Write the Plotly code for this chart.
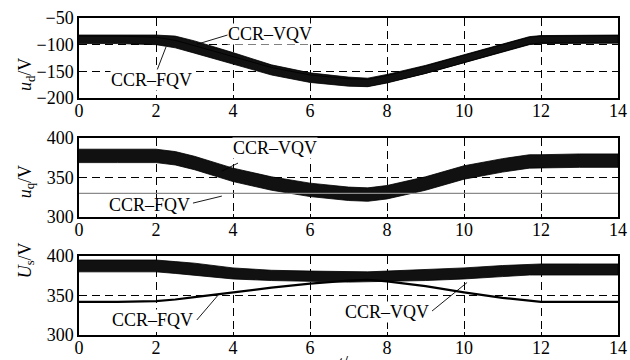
import plotly.graph_objects as go

# ---- data ----
t = [0, 1, 2, 2.5, 3, 4, 5, 6, 7, 7.5, 8, 9, 10, 11, 11.7, 12, 13, 14]

# u_d (V) bands: upper / lower envelopes
ud_vqv_up = [-82, -82, -82, -84, -93, -115, -138, -153, -161, -163, -156, -139, -119, -99, -85, -83, -82, -82]
ud_vqv_lo = [-96, -96, -96, -98, -108, -130, -153, -168, -176, -178, -171, -154, -134, -114, -100, -98, -97, -97]
ud_fqv_up = [-84, -84, -86, -92, -102, -122, -143, -157, -164, -165, -158, -140, -120, -100, -86, -84, -83, -83]
ud_fqv_lo = [-98, -98, -100, -106, -116, -136, -157, -171, -178, -179, -172, -154, -134, -113, -99, -97, -97, -97]

# u_q (V)
uq_vqv_up = [386, 386, 386, 383, 377, 362, 351, 343, 338, 337, 340, 351, 365, 374, 379, 379, 380, 380]
uq_vqv_lo = [369, 369, 369, 366, 360, 345, 334, 326, 321, 320, 323, 334, 348, 357, 362, 362, 363, 363]
uq_fqv = [330, 330, 330, 330, 330, 330, 330, 330, 330, 330, 330, 330, 330, 330, 330, 330, 330, 330]

# U_s (V)
us_vqv_up = [395, 395, 395, 393, 391, 385, 382, 381, 380, 380, 381, 383, 385, 388, 390, 390, 390, 390]
us_vqv_lo = [380, 380, 380, 378, 376, 371, 369, 368, 367, 367, 368, 369, 371, 374, 376, 376, 376, 376]
us_fqv = [342, 342, 343, 345, 348, 354, 360, 365, 369, 370, 368, 362, 354, 347, 343, 342, 342, 342]

x_ticks = [0, 2, 4, 6, 8, 10, 12, 14]
ud_ticks = [-200, -150, -100, -50]
ud_labels = ["\u2212200", "\u2212150", "\u2212100", "\u221250"]
uq_ticks = [300, 350, 400]
us_ticks = [300, 350, 400]

FONT = "Liberation Serif, Times New Roman, serif"

fig = go.Figure()


def band(up, lo, xa, ya):
    fig.add_trace(go.Scatter(
        x=t + t[::-1], y=up + lo[::-1], fill="toself", fillcolor="#111111",
        mode="lines", line=dict(color="black", width=0.8),
        xaxis=xa, yaxis=ya, showlegend=False, hoverinfo="skip"))


band(ud_vqv_up, ud_vqv_lo, "x", "y")
band(ud_fqv_up, ud_fqv_lo, "x", "y")
band(uq_vqv_up, uq_vqv_lo, "x2", "y2")
fig.add_trace(go.Scatter(x=t, y=uq_fqv, mode="lines", line=dict(color="#8a8a8a", width=1.2),
                         xaxis="x2", yaxis="y2", showlegend=False))
band(us_vqv_up, us_vqv_lo, "x3", "y3")
fig.add_trace(go.Scatter(x=t, y=us_fqv, mode="lines", line=dict(color="black", width=2.2),
                         xaxis="x3", yaxis="y3", showlegend=False))

tick_font = dict(family=FONT, size=18, color="black")
xcommon = dict(range=[0, 14], tickvals=x_ticks, showline=True, linecolor="black", linewidth=1.5,
               mirror=True, ticks="inside", ticklen=3, tickcolor="black", automargin=False,
               showgrid=True, gridcolor="black", gridwidth=1, griddash="8px,5px",
               zeroline=False, tickfont=tick_font, ticklabelstandoff=-4)
ycommon = dict(showline=True, linecolor="black", linewidth=1.5, mirror=True, automargin=False,
               ticks="inside", ticklen=3, tickcolor="black",
               showgrid=True, gridcolor="black", gridwidth=1, griddash="8px,5px",
               zeroline=False, tickfont=tick_font)

fig.update_layout(
    template="none",
    width=630, height=360, margin=dict(l=79, r=12, t=18, b=25, autoexpand=False),
    paper_bgcolor="white", plot_bgcolor="white",
    font=dict(family=FONT, color="black"),
    xaxis=dict(**xcommon, domain=[0, 1], anchor="y"),
    yaxis=dict(**ycommon, domain=[0.748, 1.0], range=[-200, -50], tickvals=ud_ticks,
               ticktext=ud_labels, anchor="x"),
    xaxis2=dict(**xcommon, domain=[0, 1], anchor="y2"),
    yaxis2=dict(**ycommon, domain=[0.372, 0.621], range=[300, 400], tickvals=uq_ticks, anchor="x2"),
    xaxis3=dict(**xcommon, domain=[0, 1], anchor="y3"),
    yaxis3=dict(**ycommon, domain=[0, 0.249], range=[300, 400], tickvals=us_ticks, anchor="x3"),
)

lab_font = dict(family=FONT, size=18, color="black")
# (text, xref, yref, text_x, text_y, line_x0, line_y0, line_x1, line_y1, background)
labels = [
    ("CCR\u2013VQV", "x", "y", 4.96, -80, 3.92, -80.6, 3.06, -99.4, "white"),
    ("CCR\u2013FQV", "x", "y", 1.87, -166, 2.03, -147.5, 2.26, -104.4, "white"),
    ("CCR\u2013VQV", "x2", "y2", 5.09, 387, 4.13, 368.4, 3.71, 358.2, "white"),
    ("CCR\u2013FQV", "x2", "y2", 1.84, 315, 2.96, 317.7, 3.71, 326.6, "rgba(0,0,0,0)"),
    ("CCR\u2013FQV", "x3", "y3", 1.9, 319, 3.06, 319, 3.66, 353.2, "white"),
    ("CCR\u2013VQV", "x3", "y3", 8.0, 329, 9.17, 330.4, 10.08, 366.5, "white"),
]
for txt, xr, yr, tx, ty, x0, y0, x1, y1, bg in labels:
    fig.add_shape(type="line", xref=xr, yref=yr, x0=x0, y0=y0, x1=x1, y1=y1,
                  line=dict(color="black", width=0.9))
    fig.add_annotation(text=txt, xref=xr, yref=yr, x=tx, y=ty, showarrow=False, font=lab_font,
                       bgcolor=bg, borderpad=0)

for txt, yy in [("<i>u</i><sub>d</sub>/V", 0.88), ("<i>u</i><sub>q</sub>/V", 0.483),
                ("<i>U</i><sub>s</sub>/V", 0.174)]:
    fig.add_annotation(text=txt, xref="paper", yref="paper", x=-0.1225, y=yy, textangle=-90,
                       showarrow=False, font=dict(family=FONT, size=18, color="black"))

fig.add_annotation(text="<i>t</i>/s", xref="paper", yref="paper", x=0.497, y=-0.125,
                   showarrow=False, font=dict(family=FONT, size=18, color="black"))

fig.write_html("out.html")
